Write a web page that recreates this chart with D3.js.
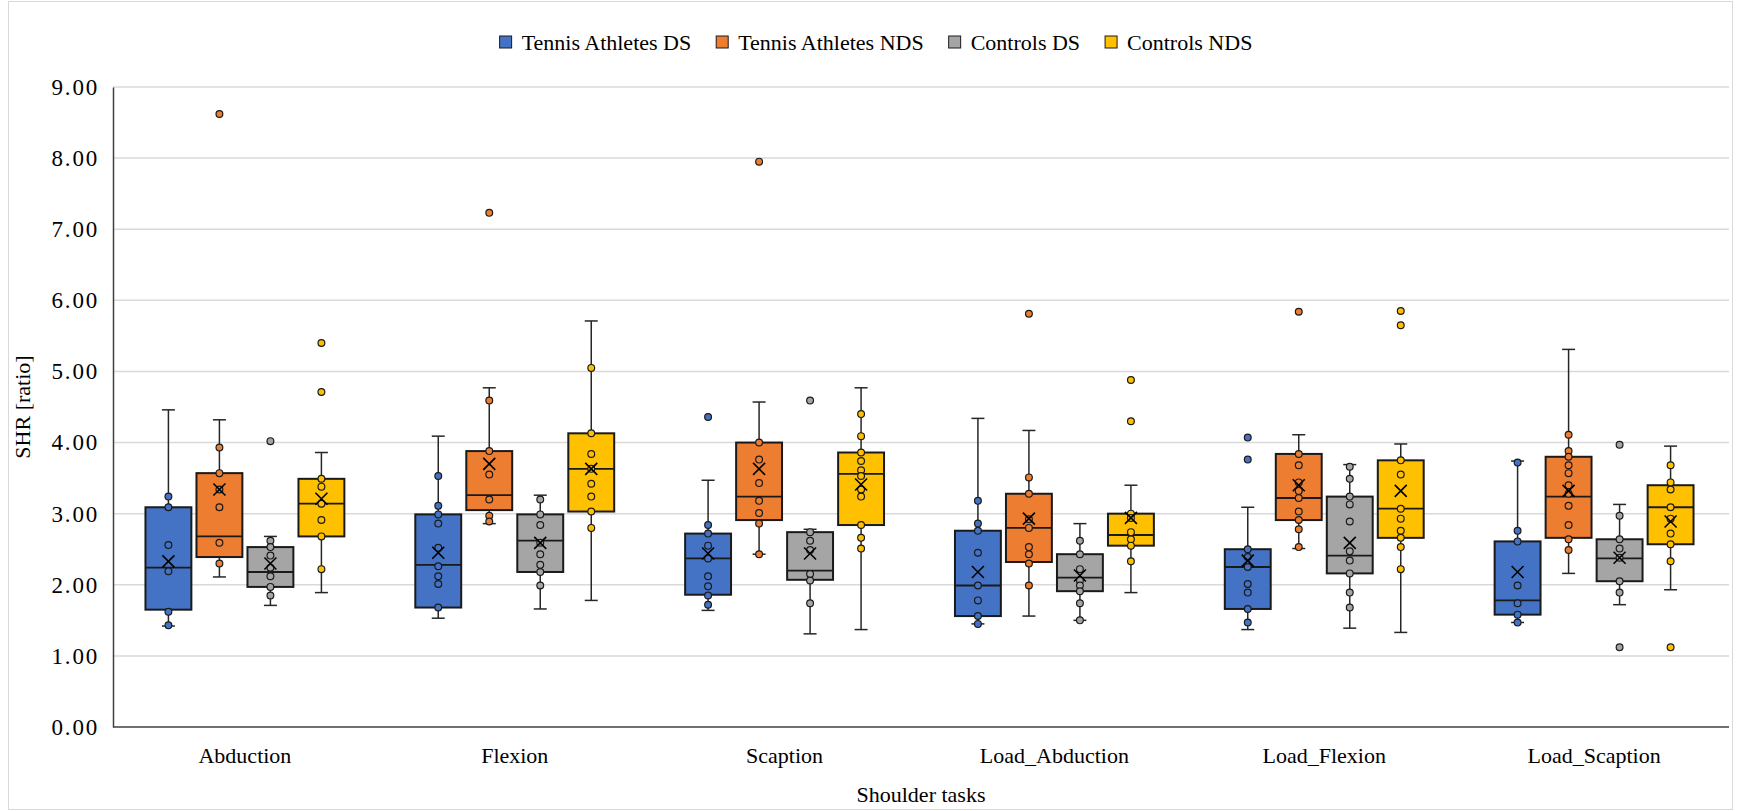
<!DOCTYPE html>
<html>
<head>
<meta charset="utf-8">
<script src="https://cdn.jsdelivr.net/npm/d3@7"></script>
<style>
  body { margin: 0; background: #fff; }
</style>
</head>
<body>
<div id="chart"></div>
<script>

/* Data */
var tasks = ["Abduction", "Flexion", "Scaption", "Load_Abduction", "Load_Flexion", "Load_Scaption"];
var groups = ["Tennis Athletes DS", "Tennis Athletes NDS", "Controls DS", "Controls NDS"];
var yTicks = [0, 1, 2, 3, 4, 5, 6, 7, 8, 9];

// box stats per task: [whisker low, q1, median, q3, whisker high, mean]
var taDSBox = [
    [1.42, 1.65, 2.24, 3.09, 4.46, 2.33],
    [1.53, 1.68, 2.28, 2.99, 4.09, 2.45],
    [1.64, 1.86, 2.37, 2.72, 3.47, 2.44],
    [1.45, 1.56, 1.99, 2.76, 4.34, 2.18],
    [1.37, 1.66, 2.25, 2.50, 3.09, 2.34],
    [1.47, 1.58, 1.78, 2.61, 3.74, 2.18]
];
var taNDSBox = [
    [2.11, 2.39, 2.68, 3.57, 4.32, 3.34],
    [2.86, 3.05, 3.26, 3.88, 4.77, 3.70],
    [2.43, 2.91, 3.24, 4.00, 4.57, 3.63],
    [1.56, 2.32, 2.80, 3.28, 4.17, 2.93],
    [2.51, 2.91, 3.22, 3.84, 4.11, 3.40],
    [2.16, 2.66, 3.24, 3.80, 5.31, 3.32]
];
var ctDSBox = [
    [1.71, 1.97, 2.18, 2.53, 2.68, 2.30],
    [1.66, 2.18, 2.62, 2.99, 3.26, 2.59],
    [1.31, 2.07, 2.20, 2.74, 2.78, 2.44],
    [1.50, 1.91, 2.10, 2.43, 2.86, 2.13],
    [1.39, 2.16, 2.41, 3.24, 3.69, 2.59],
    [1.72, 2.05, 2.37, 2.64, 3.13, 2.38]
];
var ctNDSBox = [
    [1.89, 2.68, 3.14, 3.49, 3.86, 3.21],
    [1.78, 3.03, 3.63, 4.13, 5.71, 3.63],
    [1.37, 2.84, 3.56, 3.86, 4.77, 3.41],
    [1.89, 2.55, 2.70, 3.00, 3.40, 2.94],
    [1.33, 2.66, 3.07, 3.75, 3.98, 3.32],
    [1.93, 2.57, 3.09, 3.40, 3.95, 2.89]
];

// inner points per task
var taDSPts = [
    [3.24, 3.09, 2.56, 2.19, 1.62, 1.43],
    [3.53, 3.11, 2.99, 2.86, 2.52, 2.26, 2.12, 2.01, 1.68],
    [2.84, 2.72, 2.55, 2.37, 2.12, 1.98, 1.85, 1.72],
    [3.18, 2.86, 2.76, 2.45, 1.99, 1.78, 1.56, 1.45],
    [2.50, 2.39, 2.25, 2.01, 1.89, 1.66, 1.47],
    [3.72, 2.76, 2.61, 1.99, 1.74, 1.58, 1.47]
];
var taNDSPts = [
    [3.93, 3.57, 3.34, 3.09, 2.59, 2.30],
    [4.59, 3.88, 3.55, 3.20, 2.97, 2.89],
    [4.00, 3.76, 3.43, 3.18, 3.01, 2.86, 2.43],
    [3.51, 3.28, 2.92, 2.80, 2.53, 2.43, 2.30, 1.99],
    [3.84, 3.68, 3.44, 3.32, 3.22, 3.03, 2.91, 2.78, 2.53],
    [4.11, 3.88, 3.80, 3.68, 3.57, 3.40, 3.28, 3.11, 2.84, 2.64, 2.49]
];
var ctDSPts = [
    [2.62, 2.53, 2.41, 2.24, 2.12, 1.97, 1.85],
    [3.20, 2.99, 2.84, 2.59, 2.43, 2.28, 2.18, 1.99],
    [2.74, 2.62, 2.49, 2.15, 2.06, 1.74],
    [2.62, 2.43, 2.22, 2.06, 1.99, 1.91, 1.74, 1.50],
    [3.66, 3.49, 3.24, 3.13, 2.89, 2.47, 2.34, 2.16, 1.89, 1.68],
    [2.97, 2.64, 2.51, 2.38, 2.05, 1.89]
];
var ctNDSPts = [
    [3.49, 3.38, 3.14, 2.91, 2.68, 2.22],
    [5.05, 4.13, 3.84, 3.63, 3.42, 3.24, 3.03, 2.80],
    [4.40, 4.09, 3.86, 3.74, 3.61, 3.53, 3.34, 3.24, 2.84, 2.66, 2.51],
    [3.00, 2.94, 2.74, 2.64, 2.55, 2.33],
    [3.75, 3.55, 3.07, 2.93, 2.76, 2.66, 2.53, 2.22],
    [3.68, 3.44, 3.34, 3.09, 2.93, 2.72, 2.57, 2.33]
];

// outliers per task
var taDSOut  = [[], [], [4.36], [], [4.07, 3.76], []];
var taNDSOut = [[8.62], [7.23], [7.95], [5.81], [5.84], []];
var ctDSOut  = [[4.02], [], [4.59], [], [], [3.97, 1.12]];
var ctNDSOut = [[5.40, 4.71], [], [], [4.88, 4.30], [5.85, 5.65], [1.12]];

var seriesBox = [taDSBox, taNDSBox, ctDSBox, ctNDSBox];
var seriesPts = [taDSPts, taNDSPts, ctDSPts, ctNDSPts];
var seriesOut = [taDSOut, taNDSOut, ctDSOut, ctNDSOut];

var colors = ["#4472C4", "#ED7D31", "#A5A5A5", "#FFC000"];
var serif = "'Liberation Serif', 'Times New Roman', Times, 'DejaVu Serif', serif";

/* Layout */
var W = 1741, H = 811;
var margin = { top: 87, left: 113, right: 12, bottom: 84 };
var plotBottom = H - margin.bottom; // 727
var plotRight = W - margin.right;   // 1729

var svg = d3.select("#chart").append("svg")
    .attr("width", W)
    .attr("height", H)
    .style("font-family", serif);

// outer chart border
svg.append("rect")
    .attr("x", 8.5).attr("y", 1.5)
    .attr("width", W - 17).attr("height", H - 3)
    .attr("fill", "none")
    .attr("stroke", "#d9d9d9")
    .attr("stroke-width", 1);

var y = d3.scaleLinear().domain([0, 9]).range([plotBottom, margin.top]);

var x0 = d3.scaleBand().domain(tasks).range([margin.left - 3, plotRight]).padding(0);
var groupWidth = 204;
var x1 = d3.scaleBand().domain(groups).range([0, groupWidth]).paddingInner(0.1).paddingOuter(0.05);

/* Gridlines */
svg.append("g").selectAll("line")
    .data(yTicks.filter(function(d) { return d > 0; }))
    .enter().append("line")
    .attr("x1", margin.left).attr("x2", plotRight)
    .attr("y1", function(d) { return y(d); })
    .attr("y2", function(d) { return y(d); })
    .attr("stroke", "#d9d9d9")
    .attr("stroke-width", 1.5);

/* Y axis */
var yAxis = d3.axisLeft(y).tickValues(yTicks).tickSize(0).tickPadding(14)
    .tickFormat(d3.format(".2f"));
var gy = svg.append("g")
    .attr("transform", "translate(" + margin.left + ",0)")
    .call(yAxis)
    .attr("font-family", serif);
gy.select(".domain").attr("stroke", "#404040").attr("stroke-width", 1.5);
gy.selectAll("text")
    .style("font-family", serif)
    .style("font-size", "23px")
    .style("letter-spacing", "1.8px")
    .attr("fill", "#000");

/* X axis */
var xAxis = d3.axisBottom(x0).tickSize(0).tickPadding(20);
var gx = svg.append("g")
    .attr("transform", "translate(0," + plotBottom + ")")
    .call(xAxis)
    .attr("font-family", serif);
gx.select(".domain").remove();
gx.append("line")
    .attr("x1", margin.left).attr("x2", plotRight)
    .attr("stroke", "#404040").attr("stroke-width", 1.5);
gx.selectAll("text")
    .style("font-family", serif)
    .style("font-size", "22px")
    .attr("fill", "#000");

/* Axis titles */
svg.append("text")
    .attr("transform", "translate(30," + ((margin.top + plotBottom) / 2) + ") rotate(-90)")
    .attr("text-anchor", "middle")
    .style("font-family", serif)
    .style("font-size", "22px")
    .text("SHR [ratio]");

svg.append("text")
    .attr("x", (margin.left + plotRight) / 2)
    .attr("y", 802)
    .attr("text-anchor", "middle")
    .style("font-family", serif)
    .style("font-size", "22px")
    .text("Shoulder tasks");

/* Boxes */
var capHalf = 6.5;
var boxW = x1.bandwidth();

groups.forEach(function(gName, gi) {
    var g = svg.append("g").attr("class", "series");
    var col = colors[gi];

    tasks.forEach(function(task, ti) {
        var s = seriesBox[gi][ti];
        var cx = x0(task) + x0.bandwidth() / 2 - groupWidth / 2 + x1(gName) + boxW / 2;

        // whiskers
        [[s[0], s[1]], [s[3], s[4]]].forEach(function(w) {
            g.append("line")
                .attr("x1", cx).attr("x2", cx)
                .attr("y1", y(w[0])).attr("y2", y(w[1]))
                .attr("stroke", "#262626").attr("stroke-width", 1.5);
        });
        [s[0], s[4]].forEach(function(v) {
            g.append("line")
                .attr("x1", cx - capHalf).attr("x2", cx + capHalf)
                .attr("y1", y(v)).attr("y2", y(v))
                .attr("stroke", "#262626").attr("stroke-width", 1.5);
        });

        // box
        g.append("rect")
            .attr("x", cx - boxW / 2)
            .attr("y", y(s[3]))
            .attr("width", boxW)
            .attr("height", y(s[1]) - y(s[3]))
            .attr("fill", col)
            .attr("stroke", "#1a1a1a")
            .attr("stroke-width", 2);

        // median
        g.append("line")
            .attr("x1", cx - boxW / 2).attr("x2", cx + boxW / 2)
            .attr("y1", y(s[2])).attr("y2", y(s[2]))
            .attr("stroke", "#1a1a1a").attr("stroke-width", 1.8);

        // inner points and outliers
        var pts = seriesPts[gi][ti].concat(seriesOut[gi][ti]);
        g.selectAll("circle.t" + ti)
            .data(pts)
            .enter().append("circle")
            .attr("class", "t" + ti)
            .attr("cx", cx)
            .attr("cy", function(d) { return y(d); })
            .attr("r", 3.4)
            .attr("fill", col)
            .attr("stroke", "#1a1a1a")
            .attr("stroke-width", 1.2);

        // mean marker
        var my = y(s[5]), m = 6;
        g.append("path")
            .attr("d", "M" + (cx - m) + "," + (my - m) + "L" + (cx + m) + "," + (my + m) +
                       "M" + (cx - m) + "," + (my + m) + "L" + (cx + m) + "," + (my - m))
            .attr("stroke", "#000").attr("stroke-width", 1.6)
            .attr("fill", "none");
    });
});

/* Legend */
var legend = svg.append("g").attr("class", "legend");
var lx = 0;
groups.forEach(function(gName, gi) {
    var it = legend.append("g");
    it.append("rect")
        .attr("x", 0).attr("y", -6)
        .attr("width", 12).attr("height", 12)
        .attr("fill", colors[gi])
        .attr("stroke", "#1a1a1a").attr("stroke-width", 1);
    var t = it.append("text")
        .attr("x", 22).attr("y", 0)
        .attr("dominant-baseline", "central")
        .style("font-family", serif)
        .style("font-size", "22px")
        .text(gName);
    var w = 22 + t.node().getComputedTextLength();
    it.attr("transform", "translate(" + lx + ",0)");
    lx += w + 25;
});
lx -= 25;
legend.attr("transform", "translate(" + (876 - lx / 2) + ",42)");

</script>
</body>
</html>
